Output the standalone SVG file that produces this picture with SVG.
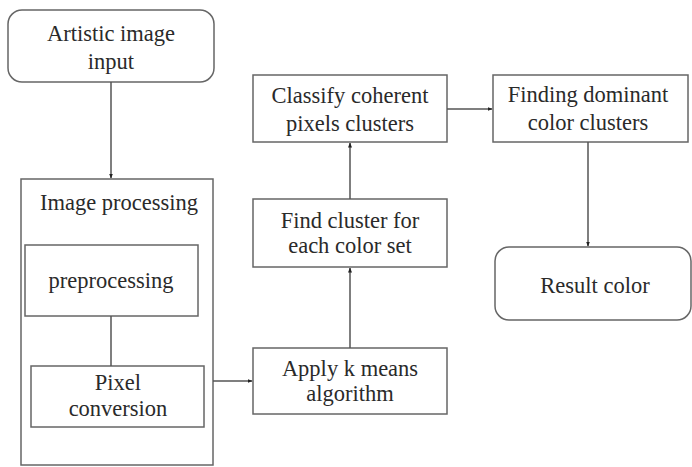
<svg xmlns="http://www.w3.org/2000/svg" width="692" height="467" viewBox="0 0 692 467">
<style>
.b{fill:#fff;stroke:#666;stroke-width:1.5}
.c{stroke:#555;stroke-width:1.5;fill:none}
</style>
<defs>
<marker id="a" viewBox="0 0 10 10" refX="9" refY="5" markerWidth="5" markerHeight="5" orient="auto" markerUnits="userSpaceOnUse">
<path d="M0,1 L10,5 L0,9 z" fill="#222"/>
</marker>
</defs>
<rect width="692" height="467" fill="#fff"/>
<g font-family="Liberation Serif" font-size="22.5" fill="#2a2a2a" text-anchor="middle">
<g id="input"><rect class="b" x="8" y="10" width="206" height="72" rx="14"/>
<text x="111" y="41">Artistic image</text><text x="111" y="69">input</text></g>
<g id="imgproc"><rect class="b" x="21" y="179" width="192" height="286"/>
<text x="119" y="210">Image processing</text></g>
<g id="preproc"><rect class="b" x="25" y="245" width="173" height="71"/>
<text x="111" y="288">preprocessing</text></g>
<g id="pixel"><rect class="b" x="31" y="366" width="173" height="61"/>
<text x="118" y="390">Pixel</text><text x="118" y="416">conversion</text></g>
<g id="kmeans"><rect class="b" x="253" y="348" width="194" height="66"/>
<text x="350" y="376">Apply k means</text><text x="350" y="401">algorithm</text></g>
<g id="findcluster"><rect class="b" x="253" y="199" width="194" height="68"/>
<text x="350" y="228">Find cluster for</text><text x="350" y="253">each color set</text></g>
<g id="classify"><rect class="b" x="253" y="75" width="194" height="67"/>
<text x="350" y="103">Classify coherent</text><text x="350" y="131">pixels clusters</text></g>
<g id="dominant"><rect class="b" x="493" y="75" width="195" height="67"/>
<text x="588" y="102">Finding dominant</text><text x="588" y="130">color clusters</text></g>
<g id="result"><rect class="b" x="495" y="247" width="196" height="73" rx="14"/>
<text x="595" y="293">Result color</text></g>
</g>
<g id="connectors">
<line class="c" x1="111" y1="82" x2="111" y2="178" marker-end="url(#a)"/>
<line class="c" x1="111" y1="316" x2="111" y2="366"/>
<line class="c" x1="213" y1="381" x2="252" y2="381" marker-end="url(#a)"/>
<line class="c" x1="350" y1="348" x2="350" y2="268" marker-end="url(#a)"/>
<line class="c" x1="350" y1="199" x2="350" y2="143" marker-end="url(#a)"/>
<line class="c" x1="447" y1="109" x2="492" y2="109" marker-end="url(#a)"/>
<line class="c" x1="588" y1="142" x2="588" y2="246" marker-end="url(#a)"/>
</g>
</svg>
